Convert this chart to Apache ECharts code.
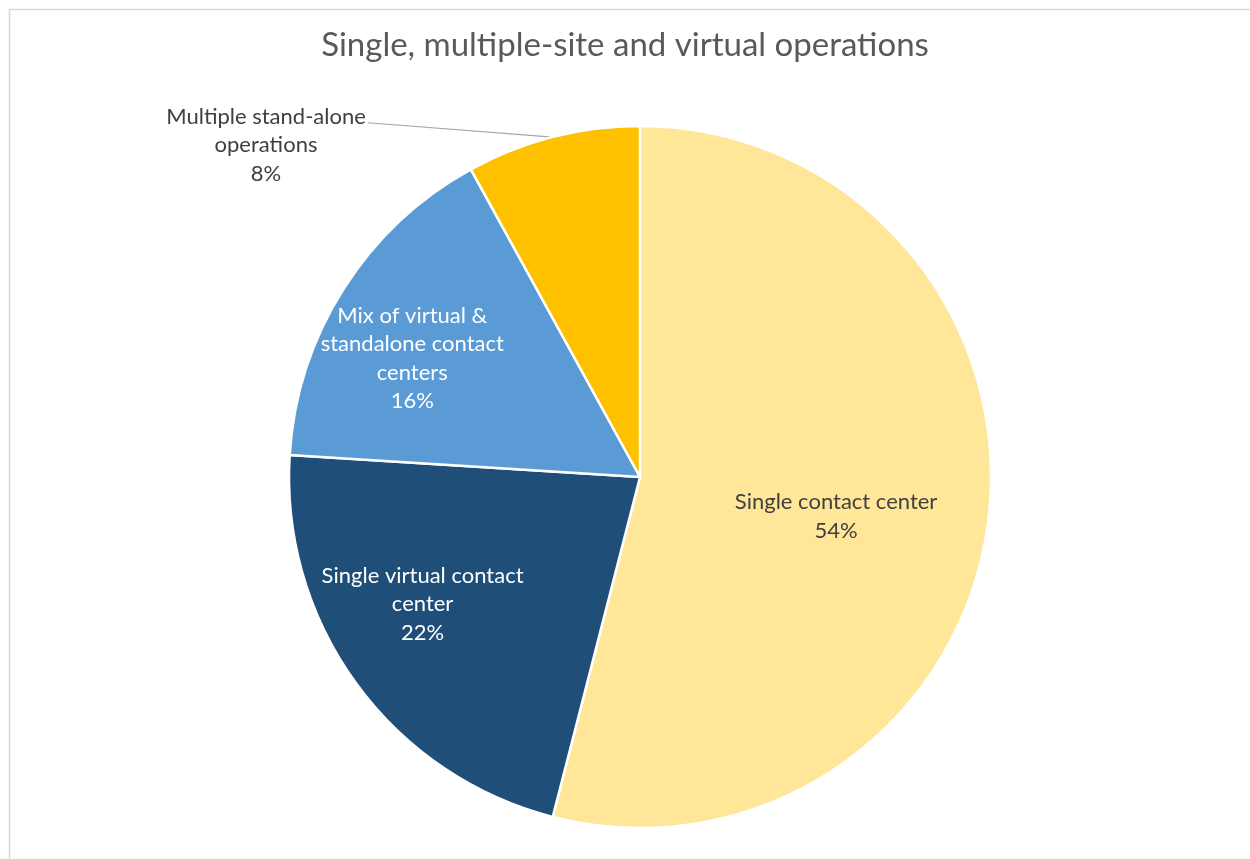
<!DOCTYPE html>
<html>
<head>
<meta charset="utf-8">
<script src="https://cdn.jsdelivr.net/npm/echarts@6/dist/echarts.min.js"></script>
<style>
  html, body { margin: 0; padding: 0; background: #ffffff; }
  #chart { width: 1250px; height: 859px; }
</style>
</head>
<body>
<div id="chart"></div>
<script>
// Share of respondents by type of contact-center operation
const categories = [
  'Single contact center',
  'Single virtual contact\ncenter',
  'Mix of virtual &\nstandalone contact\ncenters',
  'Multiple stand-alone\noperations'
];
const shares = [54, 22, 16, 8];
const sliceColors = ['#FFE699', '#1F4E79', '#5B9BD5', '#FFC000'];
const labelColors = ['#404040', '#ffffff', '#ffffff', '#404040'];

const FONT = 'Lato, "Noto Sans", sans-serif';
const LABEL_SIZE = 22;
const LABEL_LINE_HEIGHT = 28.5;

// label nudges for the inside labels, outside label placed beside the pie
const labelOffsets = [[19, 17], [-73, 22], [-77, -23], [0, 0]];
const outsideLabelPos = [266, 145];

const chart = echarts.init(document.getElementById('chart'));

const data = categories.map((name, i) => {
  const item = {
    name: name,
    value: shares[i],
    itemStyle: { color: sliceColors[i] },
    label: {
      color: labelColors[i],
      offset: labelOffsets[i]
    }
  };
  if (i === 3) {
    item.label.position = 'outside';
    item.labelLine = { show: true };
  }
  return item;
});

chart.setOption({
  backgroundColor: '#ffffff',
  animation: false,
  graphic: [{
    type: 'rect',
    left: 7, top: 7,
    shape: { width: 1300, height: 900 },
    style: { fill: 'none', stroke: '#d9d9d9', lineWidth: 1.5 },
    silent: true, z: -1
  }],
  title: {
    text: 'Single, multiple-site and virtual operations',
    left: 'center',
    top: 24,
    textStyle: {
      fontFamily: FONT,
      fontSize: 33,
      fontWeight: 'normal',
      color: '#595959'
    }
  },
  series: [{
    type: 'pie',
    center: [640, 477],
    radius: 351,
    startAngle: 90,
    clockwise: true,
    itemStyle: { borderColor: '#ffffff', borderWidth: 2.5 },
    label: {
      show: true,
      position: 'inside',
      fontFamily: FONT,
      fontSize: LABEL_SIZE,
      lineHeight: LABEL_LINE_HEIGHT,
      align: 'center',
      formatter: p => p.name + '\n' + p.value + '%'
    },
    labelLine: {
      show: false,
      lineStyle: { color: '#a6a6a6', width: 1.2 }
    },
    labelLayout: function (params) {
      if (params.dataIndex !== 3) return {};
      const w = params.labelRect.width;
      const h = params.labelRect.height;
      const right = outsideLabelPos[0] + w / 2 + 2;
      const firstLine = outsideLabelPos[1] - h / 2 + LABEL_LINE_HEIGHT * 0.72;
      const out = {
        x: outsideLabelPos[0],
        y: outsideLabelPos[1],
        align: 'center',
        verticalAlign: 'middle'
      };
      if (params.labelLinePoints && params.labelLinePoints.length) {
        out.labelLinePoints = [params.labelLinePoints[0], [right, firstLine]];
      }
      return out;
    },
    data: data
  }]
});
</script>
</body>
</html>
